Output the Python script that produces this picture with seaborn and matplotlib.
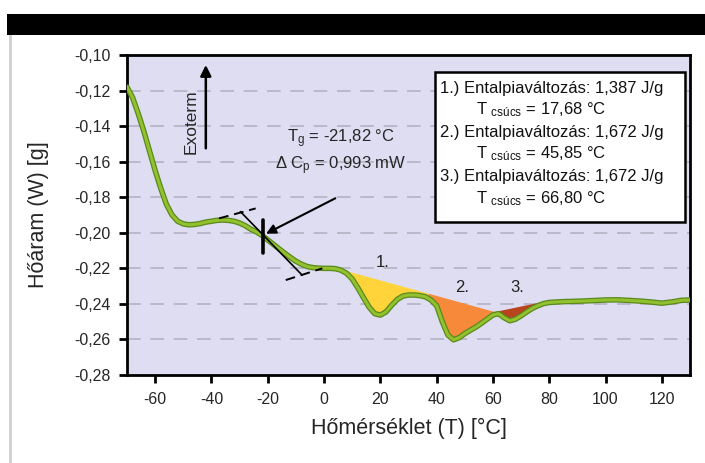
import numpy as np
import pandas as pd
import matplotlib
matplotlib.use("Agg")
import matplotlib.pyplot as plt
import matplotlib.ticker as mticker
from matplotlib.patches import Rectangle
import seaborn as sns

# DSC thermogram: heat flow vs temperature
temperature = [-70, -68, -66, -64, -62, -60, -58, -56, -54, -52, -50, -48, -46, -44,
               -42, -40, -38, -36, -34, -32, -30, -28, -26, -24, -22, -20, -18, -16,
               -14, -12, -10, -8, -6, -4, -2, 0, 2, 4, 6, 8, 10, 12, 14, 16, 18, 20,
               22, 24, 26, 28, 30, 32, 34, 36, 38, 40, 42, 44, 46, 48, 50, 52, 54,
               56, 58, 60, 62, 64, 66, 68, 70, 72, 74, 76, 78, 80, 84, 88, 92, 96,
               100, 104, 108, 112, 116, 120, 124, 127, 130]
heat_flow = [-0.118, -0.124, -0.133, -0.143, -0.154, -0.165, -0.175, -0.184, -0.190,
             -0.1935, -0.195, -0.1955, -0.1953, -0.1948, -0.194, -0.1935, -0.193,
             -0.1928, -0.193, -0.1935, -0.1945, -0.196, -0.198, -0.1995, -0.2015,
             -0.204, -0.2065, -0.209, -0.2115, -0.2138, -0.216, -0.2177, -0.219,
             -0.2196, -0.2199, -0.2200, -0.2200, -0.2202, -0.221, -0.2228, -0.226,
             -0.231, -0.2365, -0.2418, -0.2455, -0.2463, -0.2445, -0.2408, -0.2375,
             -0.2356, -0.2350, -0.2350, -0.2353, -0.236, -0.2378, -0.241, -0.250,
             -0.2575, -0.2602, -0.259, -0.2567, -0.2548, -0.253, -0.2508, -0.2485,
             -0.2462, -0.2455, -0.2478, -0.2495, -0.2486, -0.2467, -0.2445, -0.2425,
             -0.241, -0.2398, -0.2392, -0.2388, -0.2386, -0.2384, -0.2381, -0.2378,
             -0.2377, -0.2380, -0.2384, -0.2389, -0.2396, -0.2388, -0.2380, -0.2378]

# integration baselines of the three endothermic peaks: (T_start, T_end, y_start, y_end)
peak_baselines = [(6.0, 37.0, -0.2205, -0.2340),
                  (37.0, 60.5, -0.2340, -0.2443),
                  (60.5, 80.0, -0.2443, -0.2378)]
peak_colors = ["#FFD43A", "#F7893A", "#B8431C"]
peak_labels = ["1.", "2.", "3."]
peak_label_pos = [(20.8, -0.2165), (49.0, -0.2310), (68.6, -0.2310)]

legend_lines = ["1.) Entalpiaváltozás: 1,387 J/g", "17,68",
                "2.) Entalpiaváltozás: 1,672 J/g", "45,85",
                "3.) Entalpiaváltozás: 1,672 J/g", "66,80"]

tg_value = -21.82
dcp_text = "0,993 mW"

sns.set_theme(style="ticks")
plt.rcParams["font.family"] = ["Liberation Sans", "DejaVu Sans"]
plt.rcParams["mathtext.fontset"] = "custom"
plt.rcParams["mathtext.rm"] = "Liberation Sans"
plt.rcParams["mathtext.it"] = "Liberation Sans"

fig = plt.figure(figsize=(7.05, 4.63), dpi=100)
fig.patch.set_facecolor("white")
# header band and left border strip
fig.patches.append(Rectangle((7 / 705, 1 - 35 / 463), 1, 21 / 463, transform=fig.transFigure,
                             facecolor="black", edgecolor="none", zorder=0))
fig.patches.append(Rectangle((8.5 / 705, 0), 3.5 / 705, 1 - 35 / 463, transform=fig.transFigure,
                             facecolor="#D2D2D2", edgecolor="none", zorder=0))

ax = fig.add_axes([127 / 705, 1 - 375 / 463, 563 / 705, 320 / 463])
ax.set_facecolor("#DEDDF2")

ax.set_xlim(-70, 130)
ax.set_ylim(-0.28, -0.10)
ax.set_xticks(np.arange(-60, 121, 20))
ax.set_yticks(np.round(np.arange(-0.28, -0.0999, 0.02), 2))
ax.xaxis.set_major_formatter(mticker.FuncFormatter(lambda v, p: f"{v:.0f}"))
ax.yaxis.set_major_formatter(mticker.FuncFormatter(lambda v, p: f"{v:.2f}".replace(".", ",")))

for yv in np.arange(-0.26, -0.119, 0.02):
    ax.axhline(yv, color="#B9B8C8", lw=1.4, dashes=(7, 5), zorder=1)

for s in ax.spines.values():
    s.set_linewidth(2.0)
    s.set_color("black")
ax.tick_params(axis="both", direction="out", length=6, width=2, color="black",
               labelsize=11.5, pad=6)

T = np.array(temperature)
Y = np.array(heat_flow)

# shaded peak areas between baseline and curve
for (t0, t1, y0, y1), col in zip(peak_baselines, peak_colors):
    inner = T[(T > t0) & (T < t1)]
    xs = np.concatenate([[t0], inner, [t1]])
    curve = np.interp(xs, T, Y)
    base = y0 + (y1 - y0) * (xs - t0) / (t1 - t0)
    ax.fill_between(xs, curve, base, color=col, lw=0, zorder=2)

df = pd.DataFrame({"T": temperature, "HF": heat_flow})
sns.lineplot(data=df, x="T", y="HF", ax=ax, color="#5A8A1C", lw=4.0, zorder=3)
sns.lineplot(data=df, x="T", y="HF", ax=ax, color="#93C02E", lw=2.2, zorder=4)

for lab, (px, py) in zip(peak_labels, peak_label_pos):
    ax.text(px, py, lab, fontsize=12, ha="center", va="center", color="#222222", zorder=5)

# glass transition construction
ax.plot([-37.3, -24.3], [-0.1919, -0.1863], color="black", lw=1.4, dashes=(5, 3), zorder=5)
ax.plot([-13.6, -0.6], [-0.2266, -0.2200], color="black", lw=1.4, dashes=(5, 3), zorder=5)
ax.plot([-29.7, -7.8], [-0.1881, -0.2238], color="black", lw=1.2, zorder=5)
ax.plot([tg_value, tg_value], [-0.1928, -0.2115], color="black", lw=2.6, zorder=5)
ax.annotate("", xy=(-20.6, -0.2005), xytext=(4.0, -0.1806),
            arrowprops=dict(arrowstyle="-|>", color="black", lw=1.5,
                            mutation_scale=14, shrinkA=0, shrinkB=0), zorder=6)
ax.text(-13.0, -0.1470, r"T$_{g}$ = -21,82 °C", fontsize=12, va="center", ha="left")
ax.text(-17.5, -0.1620, r"$\Delta$ C$_{p}$ = " + dcp_text, fontsize=12, va="center", ha="left")

# exotherm direction arrow
ax.annotate("", xy=(-42, -0.1056), xytext=(-42, -0.1525),
            arrowprops=dict(arrowstyle="-|>", color="black", lw=1.8,
                            mutation_scale=16, shrinkA=0, shrinkB=0), zorder=6)
ax.text(-47.2, -0.1375, "Exoterm", rotation=90, fontsize=12.5, ha="center", va="center")

# peak summary box
box_x0 = (435 - 127) / 563
box_y0 = (375 - 221.7) / 320
box_w = (685 - 435) / 563
box_h = (221.7 - 71.7) / 320
ax.add_patch(Rectangle((box_x0, box_y0), box_w, box_h, transform=ax.transAxes,
                       facecolor="white", edgecolor="black", lw=1.8, zorder=7))
line_py = [88, 110, 132, 154, 177, 199]
for txt, py in zip(legend_lines, line_py):
    yy = (375 - py) / 320
    if "Entalpia" in txt:
        ax.text((440 - 127) / 563, yy, txt, transform=ax.transAxes, fontsize=12,
                ha="left", va="center", color="#111111", zorder=8)
    else:
        ax.text((476 - 127) / 563, yy, "T $_{\\mathrm{csúcs}}$ = " + txt + " °C",
                transform=ax.transAxes, fontsize=12, ha="left", va="center",
                color="#111111", zorder=8)

ax.set_xlabel("Hőmérséklet (T) [°C]", fontsize=15.5, labelpad=8)
ax.set_ylabel("Hőáram (W) [g]", fontsize=15.5, labelpad=18)
if ax.get_legend() is not None:
    ax.get_legend().remove()

fig.savefig("out.png", dpi=100)
